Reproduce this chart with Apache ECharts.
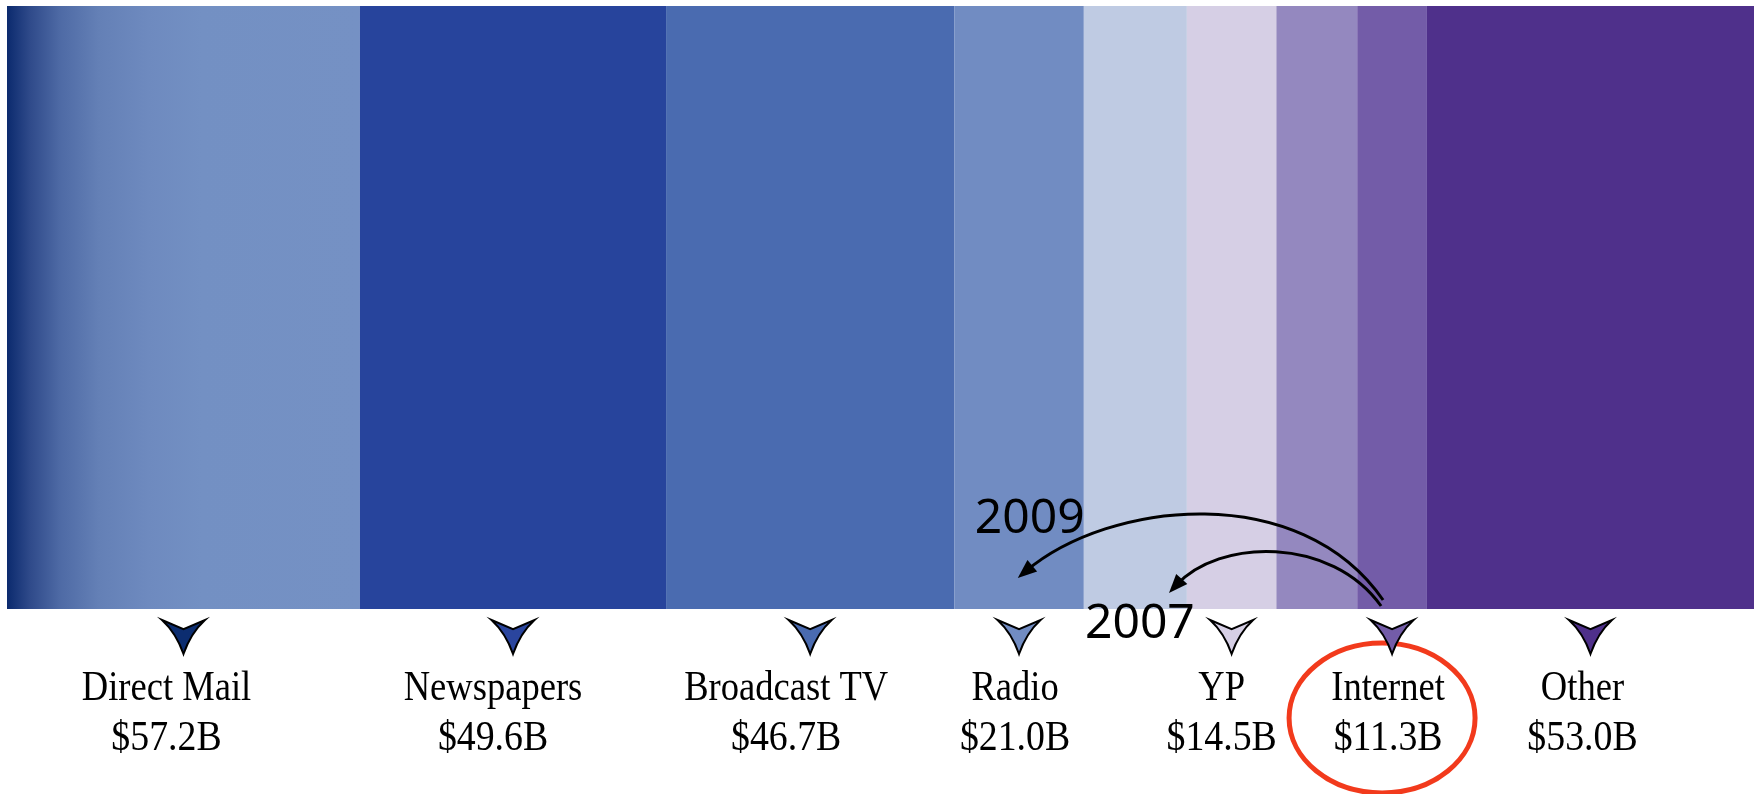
<!DOCTYPE html>
<html>
<head>
<meta charset="utf-8">
<script src="https://cdn.jsdelivr.net/npm/echarts@6/dist/echarts.min.js"></script>
<style>
html,body{margin:0;padding:0;background:#fff;}
#chart{width:1759px;height:794px;}
</style>
</head>
<body>
<div id="chart"></div>
<script>
// ---- data ----
const categories = ['Direct Mail', 'Newspapers', 'Broadcast TV', 'Radio', 'Unlabeled A', 'YP', 'Unlabeled B', 'Internet', 'Other'];
const spendB = [57.2, 49.6, 46.7, 21.0, 16.7, 14.5, 13.1, 11.3, 53.0];
const labelled = [true, true, true, true, false, true, false, true, true];
const annotationYears = ['2009', '2007'];
const annotationTargets = [163.8, 188.3]; // axis positions the arrows point to
const highlighted = 'Internet';

// ---- styles ----
const segColors = ['#7591c4', '#27449c', '#4a6bb0', '#718cc2', '#bfcbe3', '#d6cfe5', '#9488bf', '#735ca8', '#4f308b'];
const markerColors = ['#0c2d70', '#2a459e', '#4a6bb0', '#718cc2', '#bfcbe3', '#d6cfe5', '#9488bf', '#735ca8', '#4f308b'];
const labelNudge = [-17, -20, -24, -4, 0, -10, 0, -4, -8];
const dmGradient = new echarts.graphic.LinearGradient(0, 0, 1, 0, [
  {offset: 0, color: '#0b2a6e'},
  {offset: 0.065, color: '#2f4a8a'},
  {offset: 0.15, color: '#4e6aa5'},
  {offset: 0.26, color: '#6480b6'},
  {offset: 0.4, color: '#6e8abf'},
  {offset: 0.55, color: '#7390c3'},
  {offset: 1, color: '#7591c4'}
]);

const total = spendB.reduce((a, b) => a + b, 0);
const starts = [];
let acc = 0;
spendB.forEach(v => { starts.push(acc); acc += v; });

const barSeries = categories.map((name, i) => ({
  type: 'bar',
  name: name,
  stack: 'all',
  barWidth: '100%',
  silent: true,
  itemStyle: {color: i === 0 ? dmGradient : segColors[i]},
  data: [spendB[i]]
}));

const labelData = [];
categories.forEach((name, i) => {
  if (labelled[i]) labelData.push([starts[i] + spendB[i] / 2, 0, i]);
});

const serifFont = '42px "Liberation Serif", "Times New Roman", serif';

const labelSeries = {
  type: 'custom',
  coordinateSystem: 'cartesian2d',
  silent: true,
  clip: false,
  z: 5,
  encode: {x: 0, y: 1},
  data: labelData,
  renderItem: function (params, api) {
    const i = api.value(2);
    const p = api.coord([api.value(0), 0]);
    const bandH = api.size([0, 1])[1];
    const bottom = p[1] + bandH / 2;
    const cx = p[0];
    const lx = cx + labelNudge[i];
    return {
      type: 'group',
      children: [
        {
          type: 'path',
          shape: {
            pathData: 'M0,0 L50,27 L100,0 Q67,38 50,100 Q33,38 0,0 Z',
            x: cx - 21.5, y: bottom + 11, width: 43, height: 34, layout: 'cover'
          },
          style: {fill: markerColors[i], stroke: '#000', lineWidth: 2, lineJoin: 'miter'}
        },
        {
          type: 'text', x: lx, y: bottom + 80, scaleX: 0.87,
          style: {text: categories[i], font: serifFont, fill: '#000',
                  align: 'center', verticalAlign: 'middle', textAlign: 'center', textVerticalAlign: 'middle'}
        },
        {
          type: 'text', x: lx, y: bottom + 130, scaleX: 0.9,
          style: {text: '$' + spendB[i].toFixed(1) + 'B', font: serifFont, fill: '#000',
                  align: 'center', verticalAlign: 'middle', textAlign: 'center', textVerticalAlign: 'middle'}
        }
      ]
    };
  }
};

const gridTop = 6, gridHeight = 603;
const chart = echarts.init(document.getElementById('chart'), null, {renderer: 'canvas'});
chart.setOption({
  animation: false,
  backgroundColor: '#ffffff',
  grid: {left: 7, right: 5, top: gridTop, height: gridHeight},
  xAxis: {type: 'value', min: 0, max: total, show: false},
  yAxis: {type: 'category', data: ['spend'], show: false},
  series: barSeries.concat([labelSeries])
});

// ---- annotations: curved arrows and the highlight ring ----
const barBottom = gridTop + gridHeight;
const hi = categories.indexOf(highlighted);
const hiX = chart.convertToPixel({xAxisIndex: 0}, starts[hi] + spendB[hi] / 2);

function arrow(p0, c1, c2, p3) {
  const dx = p3[0] - c2[0], dy = p3[1] - c2[1];
  const len = Math.sqrt(dx * dx + dy * dy);
  const ux = dx / len, uy = dy / len;
  const hl = 19, hw = 7.5;
  const bx = p3[0] - ux * hl, by = p3[1] - uy * hl;
  const shaftEnd = [p3[0] - ux * 10, p3[1] - uy * 10];
  return [
    {type: 'bezierCurve', z: 10,
     shape: {x1: p0[0], y1: p0[1], cpx1: c1[0], cpy1: c1[1], cpx2: c2[0], cpy2: c2[1], x2: shaftEnd[0], y2: shaftEnd[1]},
     style: {stroke: '#000', lineWidth: 3, fill: null}},
    {type: 'polygon', z: 10,
     shape: {points: [p3, [bx - uy * hw, by + ux * hw], [bx + uy * hw, by - ux * hw]]},
     style: {fill: '#000'}}
  ];
}

const t09 = chart.convertToPixel({xAxisIndex: 0}, annotationTargets[0]);
const t07 = chart.convertToPixel({xAxisIndex: 0}, annotationTargets[1]);
const a09 = {p0: [hiX - 9, barBottom - 9], p3: [t09, barBottom - 31]};
const a07 = {p0: [hiX - 11, barBottom - 3], p3: [t07, barBottom - 16]};

const yearFont = '48px "Noto Sans", "Open Sans", sans-serif';
const elements = []
  .concat(arrow(a09.p0, [a09.p0[0] - 83, a09.p0[1] - 120], [a09.p3[0] + 92, a09.p3[1] - 78], a09.p3))
  .concat(arrow(a07.p0, [a07.p0[0] - 50, a07.p0[1] - 70], [a07.p3[0] + 50, a07.p3[1] - 55], a07.p3))
  .concat([
    {type: 'text', z: 10, x: a09.p3[0] - 43, y: a09.p3[1] - 59,
     style: {text: annotationYears[0], font: yearFont, fill: '#000', align: 'left', verticalAlign: 'middle'}},
    {type: 'text', z: 10, x: a07.p3[0] - 84, y: a07.p3[1] + 31,
     style: {text: annotationYears[1], font: yearFont, fill: '#000', align: 'left', verticalAlign: 'middle'}},
    {type: 'ellipse', z: 1,
     shape: {cx: hiX - 10, cy: barBottom + 109, rx: 93, ry: 75},
     style: {fill: null, stroke: '#f23a1c', lineWidth: 5}}
  ]);
chart.setOption({graphic: {elements: elements}});
</script>
</body>
</html>
